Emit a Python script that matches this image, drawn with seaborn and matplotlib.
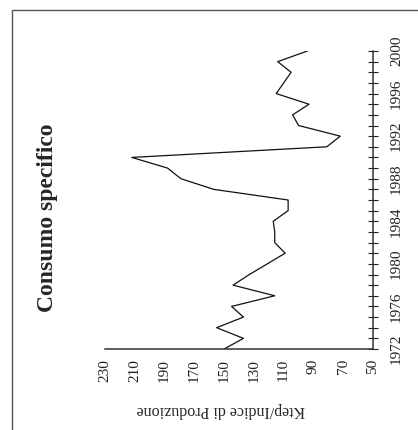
import numpy as np
import pandas as pd
import matplotlib
matplotlib.use("Agg")
import matplotlib.pyplot as plt
import seaborn as sns

# specific consumption, read from the scanned (rotated) chart
years = list(range(1972, 2001))
consumo = [150, 137, 155, 137, 145, 116, 144, 133, 121, 109,
           116, 116, 117, 107, 107, 157, 179, 188, 212, 81,
           72, 100, 104, 93, 115, 110, 105, 114, 94]

value_ticks = list(range(50, 231, 20))
year_labels = list(range(1972, 2001, 4))

title = "Consumo specifico"
value_label = "Ktep/Indice di Produzione"

sns.set_style("white")
plt.rcParams['font.family'] = ['Liberation Serif', 'DejaVu Serif']

df = pd.DataFrame({"anno": years, "consumo": consumo})

fig = plt.figure(figsize=(4.18, 4.30), dpi=100)
fig.patch.set_facecolor("white")

# the page is scanned sideways: values run right-to-left, years bottom-to-top
ax = fig.add_axes([105 / 418, 1 - 349 / 430, 268 / 418, 298 / 430])
ax.set_facecolor("none")

sns.lineplot(data=df, x="consumo", y="anno", sort=False, estimator=None,
             color="#111111", linewidth=0.9, ax=ax)

ax.set_xlim(230, 50)
ax.set_ylim(1972, 2000)

for side in ["top", "left"]:
    ax.spines[side].set_visible(False)
for side in ["bottom", "right"]:
    ax.spines[side].set_color("#333333")
    ax.spines[side].set_linewidth(1.1)

ax.set_xticks(value_ticks)
ax.set_xticklabels([str(v) for v in value_ticks])
ax.tick_params(axis="x", direction="inout", length=6, width=0.8,
               colors="#222222", labelsize=11, labelrotation=90, pad=4)

ax.yaxis.tick_right()
ax.set_yticks(year_labels)
ax.set_yticklabels([str(y) for y in year_labels])
ax.set_yticks(years, minor=True)
ax.tick_params(axis="y", which="both", direction="inout", length=6.5, width=0.8,
               colors="#222222", labelsize=11, labelrotation=90, pad=9)
plt.setp(ax.get_yticklabels(), va="center")

ax.set_ylabel("")
ax.set_xlabel(value_label, fontsize=11.5, rotation=180)
ax.xaxis.set_label_coords((221 - 105) / 268, -(410 - 349) / 298)
ax.xaxis.label.set_va("center")

fig.text(48 / 418, 1 - 218 / 430, title, rotation=90, ha="center", va="center",
         fontsize=17, fontweight="bold")

# frame of the scanned page
fig.add_artist(plt.Rectangle((12 / 418, -0.5), 2, 1.5 - 10 / 430,
                             transform=fig.transFigure, fill=False,
                             edgecolor="#555555", linewidth=1.0))

fig.savefig("out.png", dpi=100)
